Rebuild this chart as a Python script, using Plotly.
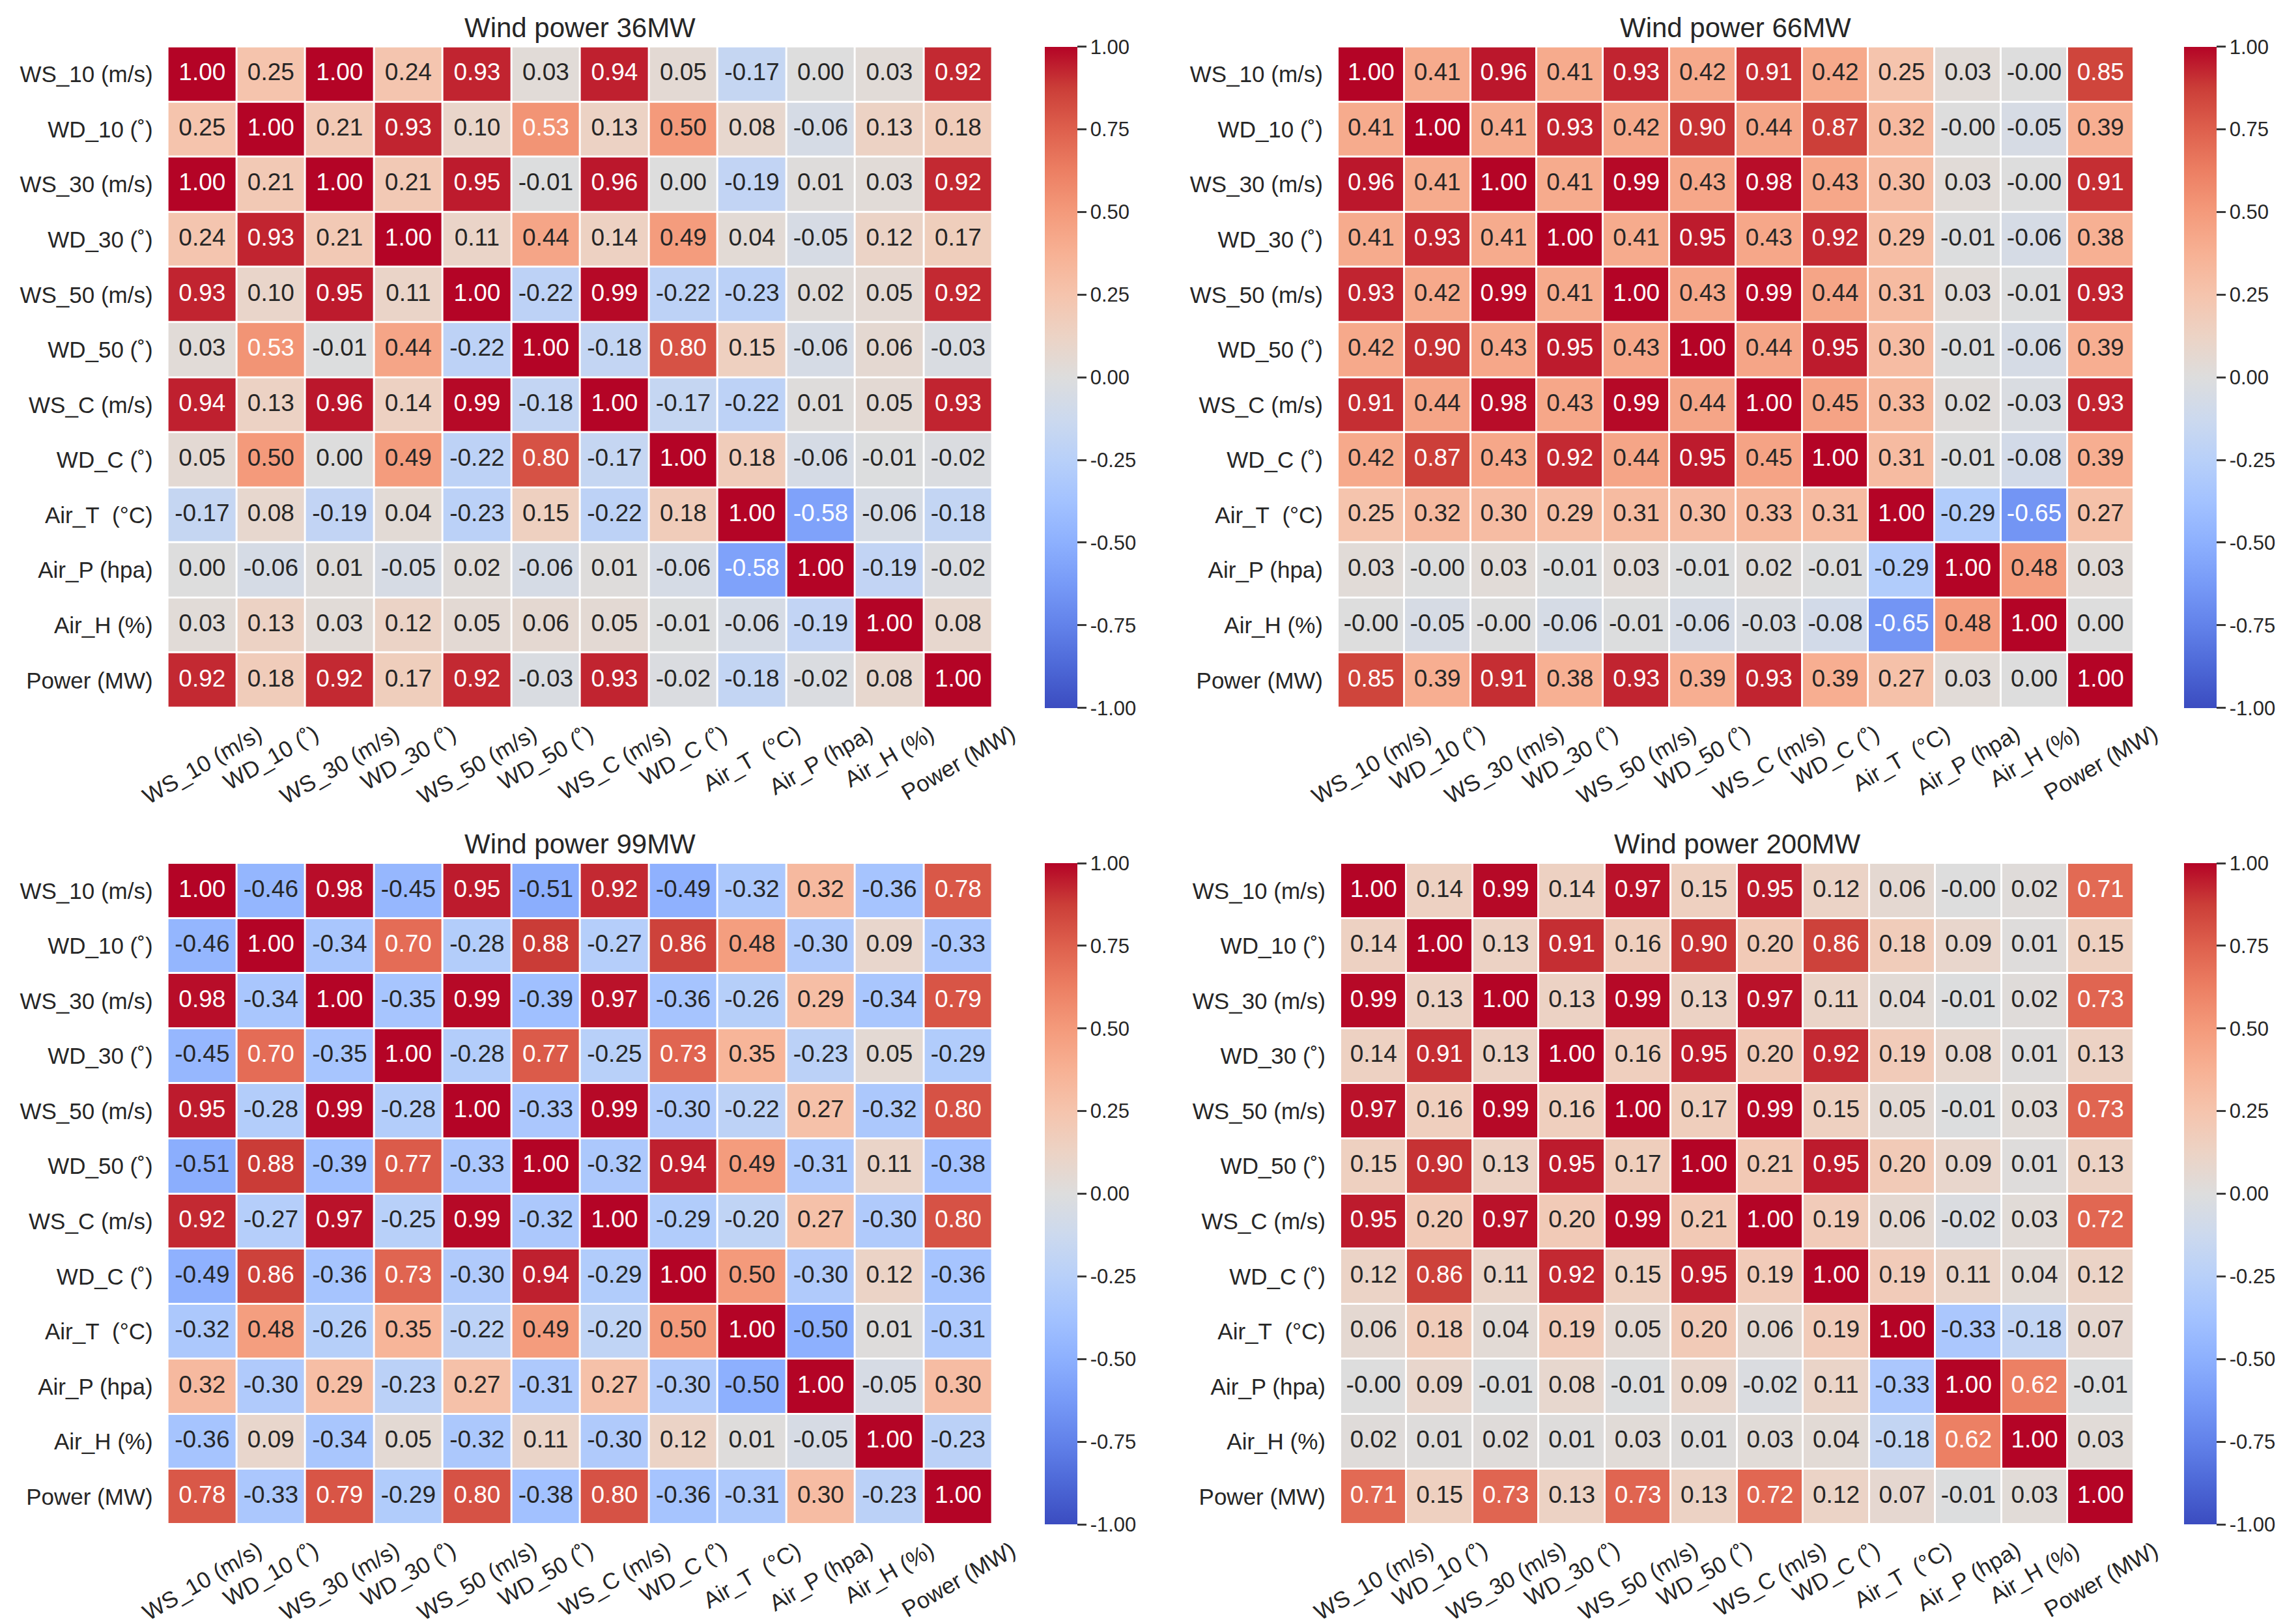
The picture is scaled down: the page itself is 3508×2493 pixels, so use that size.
import plotly.graph_objects as go

# variable names, same order for rows and columns
labels = ["WS_10 (m/s)", "WD_10 (˚)", "WS_30 (m/s)", "WD_30 (˚)", "WS_50 (m/s)", "WD_50 (˚)",
          "WS_C (m/s)", "WD_C (˚)", "Air_T\u00a0 (°C)", "Air_P (hpa)", "Air_H (%)", "Power (MW)"]

titles = ["Wind power 36MW", "Wind power 66MW", "Wind power 99MW", "Wind power 200MW"]

corr_36 = [
    [1.00, 0.25, 1.00, 0.24, 0.93, 0.03, 0.94, 0.05, -0.17, 0.00, 0.03, 0.92],
    [0.25, 1.00, 0.21, 0.93, 0.10, 0.53, 0.13, 0.50, 0.08, -0.06, 0.13, 0.18],
    [1.00, 0.21, 1.00, 0.21, 0.95, -0.01, 0.96, 0.00, -0.19, 0.01, 0.03, 0.92],
    [0.24, 0.93, 0.21, 1.00, 0.11, 0.44, 0.14, 0.49, 0.04, -0.05, 0.12, 0.17],
    [0.93, 0.10, 0.95, 0.11, 1.00, -0.22, 0.99, -0.22, -0.23, 0.02, 0.05, 0.92],
    [0.03, 0.53, -0.01, 0.44, -0.22, 1.00, -0.18, 0.80, 0.15, -0.06, 0.06, -0.03],
    [0.94, 0.13, 0.96, 0.14, 0.99, -0.18, 1.00, -0.17, -0.22, 0.01, 0.05, 0.93],
    [0.05, 0.50, 0.00, 0.49, -0.22, 0.80, -0.17, 1.00, 0.18, -0.06, -0.01, -0.02],
    [-0.17, 0.08, -0.19, 0.04, -0.23, 0.15, -0.22, 0.18, 1.00, -0.58, -0.06, -0.18],
    [0.00, -0.06, 0.01, -0.05, 0.02, -0.06, 0.01, -0.06, -0.58, 1.00, -0.19, -0.02],
    [0.03, 0.13, 0.03, 0.12, 0.05, 0.06, 0.05, -0.01, -0.06, -0.19, 1.00, 0.08],
    [0.92, 0.18, 0.92, 0.17, 0.92, -0.03, 0.93, -0.02, -0.18, -0.02, 0.08, 1.00],
]

corr_66 = [
    [1.00, 0.41, 0.96, 0.41, 0.93, 0.42, 0.91, 0.42, 0.25, 0.03, -0.0, 0.85],
    [0.41, 1.00, 0.41, 0.93, 0.42, 0.90, 0.44, 0.87, 0.32, -0.0, -0.05, 0.39],
    [0.96, 0.41, 1.00, 0.41, 0.99, 0.43, 0.98, 0.43, 0.30, 0.03, -0.0, 0.91],
    [0.41, 0.93, 0.41, 1.00, 0.41, 0.95, 0.43, 0.92, 0.29, -0.01, -0.06, 0.38],
    [0.93, 0.42, 0.99, 0.41, 1.00, 0.43, 0.99, 0.44, 0.31, 0.03, -0.01, 0.93],
    [0.42, 0.90, 0.43, 0.95, 0.43, 1.00, 0.44, 0.95, 0.30, -0.01, -0.06, 0.39],
    [0.91, 0.44, 0.98, 0.43, 0.99, 0.44, 1.00, 0.45, 0.33, 0.02, -0.03, 0.93],
    [0.42, 0.87, 0.43, 0.92, 0.44, 0.95, 0.45, 1.00, 0.31, -0.01, -0.08, 0.39],
    [0.25, 0.32, 0.30, 0.29, 0.31, 0.30, 0.33, 0.31, 1.00, -0.29, -0.65, 0.27],
    [0.03, -0.0, 0.03, -0.01, 0.03, -0.01, 0.02, -0.01, -0.29, 1.00, 0.48, 0.03],
    [-0.0, -0.05, -0.0, -0.06, -0.01, -0.06, -0.03, -0.08, -0.65, 0.48, 1.00, 0.00],
    [0.85, 0.39, 0.91, 0.38, 0.93, 0.39, 0.93, 0.39, 0.27, 0.03, 0.00, 1.00],
]

corr_99 = [
    [1.00, -0.46, 0.98, -0.45, 0.95, -0.51, 0.92, -0.49, -0.32, 0.32, -0.36, 0.78],
    [-0.46, 1.00, -0.34, 0.70, -0.28, 0.88, -0.27, 0.86, 0.48, -0.30, 0.09, -0.33],
    [0.98, -0.34, 1.00, -0.35, 0.99, -0.39, 0.97, -0.36, -0.26, 0.29, -0.34, 0.79],
    [-0.45, 0.70, -0.35, 1.00, -0.28, 0.77, -0.25, 0.73, 0.35, -0.23, 0.05, -0.29],
    [0.95, -0.28, 0.99, -0.28, 1.00, -0.33, 0.99, -0.30, -0.22, 0.27, -0.32, 0.80],
    [-0.51, 0.88, -0.39, 0.77, -0.33, 1.00, -0.32, 0.94, 0.49, -0.31, 0.11, -0.38],
    [0.92, -0.27, 0.97, -0.25, 0.99, -0.32, 1.00, -0.29, -0.20, 0.27, -0.30, 0.80],
    [-0.49, 0.86, -0.36, 0.73, -0.30, 0.94, -0.29, 1.00, 0.50, -0.30, 0.12, -0.36],
    [-0.32, 0.48, -0.26, 0.35, -0.22, 0.49, -0.20, 0.50, 1.00, -0.50, 0.01, -0.31],
    [0.32, -0.30, 0.29, -0.23, 0.27, -0.31, 0.27, -0.30, -0.50, 1.00, -0.05, 0.30],
    [-0.36, 0.09, -0.34, 0.05, -0.32, 0.11, -0.30, 0.12, 0.01, -0.05, 1.00, -0.23],
    [0.78, -0.33, 0.79, -0.29, 0.80, -0.38, 0.80, -0.36, -0.31, 0.30, -0.23, 1.00],
]

corr_200 = [
    [1.00, 0.14, 0.99, 0.14, 0.97, 0.15, 0.95, 0.12, 0.06, -0.0, 0.02, 0.71],
    [0.14, 1.00, 0.13, 0.91, 0.16, 0.90, 0.20, 0.86, 0.18, 0.09, 0.01, 0.15],
    [0.99, 0.13, 1.00, 0.13, 0.99, 0.13, 0.97, 0.11, 0.04, -0.01, 0.02, 0.73],
    [0.14, 0.91, 0.13, 1.00, 0.16, 0.95, 0.20, 0.92, 0.19, 0.08, 0.01, 0.13],
    [0.97, 0.16, 0.99, 0.16, 1.00, 0.17, 0.99, 0.15, 0.05, -0.01, 0.03, 0.73],
    [0.15, 0.90, 0.13, 0.95, 0.17, 1.00, 0.21, 0.95, 0.20, 0.09, 0.01, 0.13],
    [0.95, 0.20, 0.97, 0.20, 0.99, 0.21, 1.00, 0.19, 0.06, -0.02, 0.03, 0.72],
    [0.12, 0.86, 0.11, 0.92, 0.15, 0.95, 0.19, 1.00, 0.19, 0.11, 0.04, 0.12],
    [0.06, 0.18, 0.04, 0.19, 0.05, 0.20, 0.06, 0.19, 1.00, -0.33, -0.18, 0.07],
    [-0.0, 0.09, -0.01, 0.08, -0.01, 0.09, -0.02, 0.11, -0.33, 1.00, 0.62, -0.01],
    [0.02, 0.01, 0.02, 0.01, 0.03, 0.01, 0.03, 0.04, -0.18, 0.62, 1.00, 0.03],
    [0.71, 0.15, 0.73, 0.13, 0.73, 0.13, 0.72, 0.12, 0.07, -0.01, 0.03, 1.00],
]

cbar_ticks = [1.0, 0.75, 0.5, 0.25, 0.0, -0.25, -0.5, -0.75, -1.0]

# matplotlib-like coolwarm
coolwarm = [
    [0.0, "rgb(59,76,192)"], [0.0625, "rgb(77,104,215)"], [0.125, "rgb(98,130,234)"],
    [0.1875, "rgb(119,154,247)"], [0.25, "rgb(141,176,254)"], [0.3125, "rgb(163,194,255)"],
    [0.375, "rgb(184,208,249)"], [0.4375, "rgb(204,217,238)"], [0.5, "rgb(221,221,221)"],
    [0.5625, "rgb(236,211,197)"], [0.625, "rgb(245,196,173)"], [0.6875, "rgb(247,177,148)"],
    [0.75, "rgb(244,154,123)"], [0.8125, "rgb(236,127,99)"], [0.875, "rgb(222,96,77)"],
    [0.9375, "rgb(203,62,56)"], [1.0, "rgb(180,4,38)"],
]

W, H = 3508, 2493
TEXT = "#262626"
FONT = "Liberation Sans, Arial, sans-serif"

# pixel boxes of each heatmap (x0, x1, y0, y1) and colorbar left edge
panels = [
    (257.6, 1523.7, 71.7, 1086.7, 1604),
    (2054, 3275.7, 71.7, 1086.7, 3353),
    (257.6, 1523.7, 1325, 2340, 1604),
    (2058, 3275.7, 1325, 2340, 3353),
]


def cell_color(v):
    return "white" if v >= 0.52 or v <= -0.55 else TEXT


fig = go.Figure()
annotations = []
layout_axes = {}
n = len(labels)

for k, (corr, title, box) in enumerate(zip([corr_36, corr_66, corr_99, corr_200], titles, panels), start=1):
    x0, x1, y0, y1, cbx = box
    xa = "x" if k == 1 else f"x{k}"
    ya = "y" if k == 1 else f"y{k}"

    fig.add_trace(go.Heatmap(
        z=corr, x=labels, y=labels, zmin=-1, zmax=1, colorscale=coolwarm,
        xgap=3, ygap=3, xaxis=xa, yaxis=ya, hoverinfo="skip",
        colorbar=dict(
            x=cbx / W, xanchor="left", y=1 - y0 / H, yanchor="top",
            len=(y1 - y0) / H, lenmode="fraction", thickness=50, outlinewidth=0,
            xpad=0, ypad=0, tickvals=cbar_ticks, ticktext=[f"{t:.2f}" for t in cbar_ticks],
            ticks="outside", ticklen=14, tickwidth=3, tickcolor="#3a3a3a",
            tickfont=dict(size=31, color=TEXT, family=FONT),
        ),
    ))

    xs, ys, txt, cols = [], [], [], []
    for i, row_lab in enumerate(labels):
        for j, col_lab in enumerate(labels):
            v = corr[i][j]
            xs.append(col_lab)
            ys.append(row_lab)
            txt.append(f"{v:.2f}")
            cols.append(cell_color(v))
    fig.add_trace(go.Scatter(
        x=xs, y=ys, text=txt, mode="text", xaxis=xa, yaxis=ya,
        textfont=dict(size=37, color=cols, family=FONT),
        hoverinfo="skip", showlegend=False,
    ))

    layout_axes["xaxis" if k == 1 else f"xaxis{k}"] = dict(
        domain=[x0 / W, x1 / W], anchor=ya, range=[-0.5, n - 0.5],
        showticklabels=False, showgrid=False,
        zeroline=False, ticks="", showline=False, automargin=False,
    )
    layout_axes["yaxis" if k == 1 else f"yaxis{k}"] = dict(
        domain=[1 - y1 / H, 1 - y0 / H], anchor=xa, range=[n - 0.5, -0.5],
        showgrid=False, zeroline=False, ticks="", showline=False, automargin=False,
        ticklabelstandoff=22, tickfont=dict(size=35, color=TEXT, family=FONT),
    )

    # rotated x tick labels, centred under each column like matplotlib
    for j, lab in enumerate(labels):
        annotations.append(dict(
            x=j, xref=xa, y=0, yref=f"{ya} domain", text=lab, textangle=-30,
            xanchor="center", yanchor="top", yshift=-16, showarrow=False,
            font=dict(size=35, color=TEXT, family=FONT),
        ))

    annotations.append(dict(
        x=0.5, xref=f"{xa} domain", y=1, yref=f"{ya} domain", text=title,
        xanchor="center", yanchor="bottom", yshift=4, showarrow=False,
        font=dict(size=42, color=TEXT, family=FONT),
    ))

fig.update_layout(
    width=W, height=H,
    margin=dict(l=0, r=0, t=0, b=0, autoexpand=False),
    paper_bgcolor="white", plot_bgcolor="white",
    showlegend=False,
    annotations=annotations,
    font=dict(family=FONT, color=TEXT),
    **layout_axes,
)

fig.write_html("out.html", config={"displayModeBar": False},
               post_script="document.body.style.margin='0';")
